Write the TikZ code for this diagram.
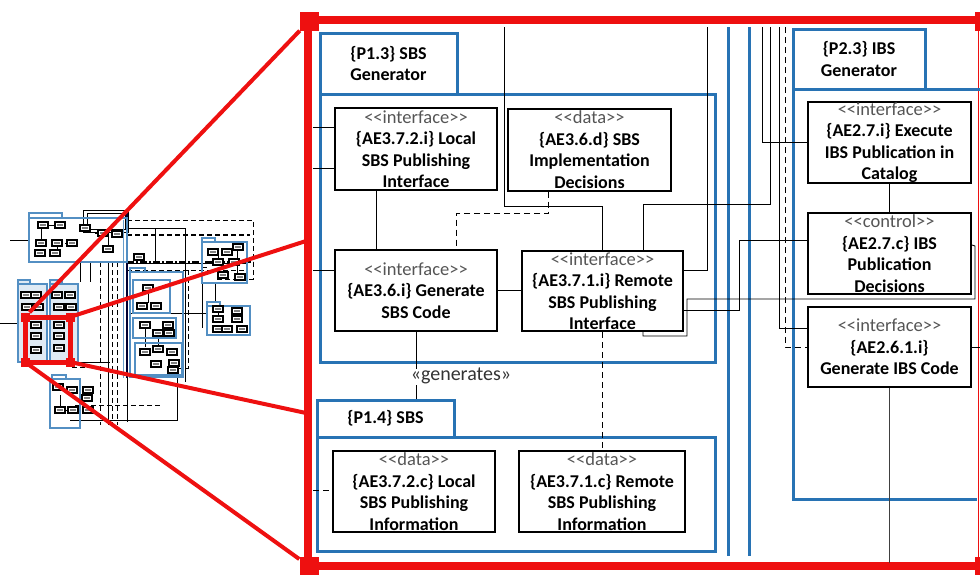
\documentclass[tikz,border=0pt]{standalone}
\usepackage{fontspec}
\setmainfont{Carlito}
\usetikzlibrary{calc}
\definecolor{pkgblue}{RGB}{40,115,180}
\definecolor{zred}{RGB}{238,16,16}
\definecolor{stgray}{RGB}{85,85,85}
\newcommand\stype[1]{{\fontsize{18.5}{21.5}\selectfont\mdseries\color{stgray}<{}<#1>{}>}}
\newcommand\tbt{\textcolor{gray}{\rule{6pt}{2pt}}}
\tikzset{
  pkg/.style={draw=pkgblue, line width=3pt},
  pkgtxt/.style={pkg, inner sep=0pt, align=center, font=\fontsize{18}{21.5}\selectfont\bfseries},
  cls/.style={draw=black, line width=2pt, fill=white, inner sep=0pt, align=center,
    minimum width=162pt, minimum height=81pt, font=\fontsize{18}{21.5}\selectfont\bfseries},
  conn/.style={draw=black, line width=0.8pt},
  dconn/.style={conn, dash pattern=on 6pt off 4pt},
  redline/.style={draw=zred, line width=7.5pt},
  redthin/.style={draw=zred, line width=4pt},
  redsq/.style={fill=zred, minimum size=19pt, inner sep=0pt},
  tpkg/.style={draw=pkgblue!80, line width=1.4pt},
  tbox/.style={draw=black, line width=1.1pt, fill=white, minimum width=10pt, minimum height=6pt, inner sep=0pt},
  tline/.style={draw=black, line width=0.7pt},
  tdash/.style={draw=black, line width=0.9pt, dash pattern=on 5pt off 3pt},
}
\begin{document}
\begin{tikzpicture}[x=1pt,y=-1pt]
\useasboundingbox (0,0) rectangle (980,574);

% ================= thumbnail =================
% dashed frames and long lines
\draw[tdash] (127,220) -- (253,220) -- (253,279) -- (215,279);
\draw[tdash, line width=1.6pt] (127,235) -- (250,235);
\draw[draw=black, line width=1.6pt, dash pattern=on 7pt off 2pt on 2pt off 2pt] (127,262) -- (253,262);
\draw[tdash] (127,270) -- (245,270);
\draw[tdash] (188,270) -- (188,368) -- (177,368);
\foreach \xx in {100,112,117}{\draw[tdash] (\xx,262) -- (\xx,425);}
\draw[tdash] (75,405) -- (160,405);
\draw[tdash] (72,367) -- (100,367);
% thin black lines
\draw[tline] (83,210) rectangle (128,232);
\draw[tline] (87,213) rectangle (125,229);
\draw[tline] (127,228) -- (185,228) -- (185,382);
\draw[tline] (155,228) -- (155,263);
\draw[tline] (127,263) -- (247,263);
\draw[tline] (10,240) -- (29,240);
\draw[tline] (0,323) -- (18,323);
\draw[tline] (130,313) -- (207,313);
\draw[tline] (202,267) -- (202,328);
\draw[tline] (202,267) -- (207,267);
\draw[tline] (215,283) -- (215,302);
\draw[tline] (70,420) -- (177,420) -- (177,377);
\draw[tline] (127,377) -- (127,422);
\draw[tline] (108,262) -- (108,425);
\draw[tline] (80,262) -- (80,282);
\draw[tline] (90,262) -- (90,282);
\draw[tline] (72,362) -- (110,362);
\draw[tline] (48,225) -- (55,225);
\draw[tline] (41,228) -- (41,240);
\draw[tline] (57,246) -- (57,250);
\draw[tline] (65,243) -- (67,243);
\draw[tline] (95,233) -- (98,233);
\draw[tline] (108,237) -- (108,246);
\draw[tline] (148,291) -- (148,303);
\draw[tline] (145,328) -- (145,347);
\draw[tline] (158,336) -- (158,347);
\draw[tline] (218,255) -- (218,259);
\draw[tline] (237,250) -- (237,275);
\draw[tline] (218,312) -- (218,317);
\draw[tline] (30,299) -- (30,303);
\draw[tline] (62,299) -- (62,303);
\draw[tline] (36,310) -- (36,320);
\draw[tline] (59,310) -- (59,320);
\draw[tline] (60,395) -- (60,406);
\draw[tline] (65,410) -- (68,410);
% thick dark line
\draw[draw=black!80!blue, line width=2.6pt] (127,212) -- (127,378);
\draw[draw=pkgblue!70, line width=1pt] (123,220) -- (123,378);
% packages
\draw[tpkg] (29,213) rectangle (62,218); \draw[tpkg] (29,218) rectangle (127,262);
\draw[tpkg] (202,238) rectangle (215,242); \draw[tpkg] (202,242) rectangle (247,283);
\draw[tpkg] (207,302) rectangle (220,306); \draw[tpkg] (207,306) rectangle (250,335);
\draw[tpkg] (130,268) rectangle (145,272); \draw[tpkg] (130,272) rectangle (183,377);
\draw[tpkg] (133,280) rectangle (170,313);
\draw[tpkg] (133,318) rectangle (176,338);
\draw[tpkg] (135,343) rectangle (182,375);
\draw[tpkg, fill=pkgblue!15] (18,280) rectangle (30,284); \draw[tpkg, fill=pkgblue!15] (18,284) rectangle (47,362);
\draw[tpkg, fill=pkgblue!15] (50,280) rectangle (62,284); \draw[tpkg, fill=pkgblue!15] (50,284) rectangle (78,362);
\draw[tpkg] (52,375) rectangle (66,379); \draw[tpkg] (50,379) rectangle (80,428);
% tiny class boxes
\foreach \nm/\px/\py in {a1/43/225,a2/60/225,a3/85/228,a4/103/233,a5/117/234,a6/41/243,a7/57/243,a8/72/243,a9/40/253,a10/55/253,a11/108/249,
  b1/213/252,b2/227/252,b3/238/247,b4/218/262,b5/234/262,b6/223/275,b7/240/277,
  c1/218/309,c2/237/311,c3/218/319,c4/237/319,c5/218/329,c6/227/329,c7/242/329,
  d1/148/288,d2/142/306,d3/156/306,d4/145/325,d5/168/325,d6/158/333,d7/169/333,d8/145/352,d9/158/349,d10/172/352,d11/156/364,d12/174/363,d13/173/370,d14/139/257,
  e1/26/295,e2/36/295,e3/57/295,e4/70/295,e5/27/307,e6/38/307,e7/59/307,e8/71/307,e9/36/325,e10/59/325,e11/36/336,e12/59/336,e13/36/350,e14/59/348,
  f1/58/387,f2/72/390,f3/88/390,f4/87/398,f5/60/410,f6/73/410,f7/88/410}
  {\node[tbox] (\nm) at (\px,\py) {\tbt};}
% red zoom marker in thumbnail
\draw[zred, line width=5pt] (25,317) rectangle (70,362);
\foreach \nm/\px/\py in {q1/25/317,q2/70/317,q3/25/362,q4/70/362}
  {\node[fill=zred, minimum size=9pt, inner sep=0pt] (\nm) at (\px,\py) {};}

% ================= red zoom frame =================
\coordinate (ftl) at (308,20);
\coordinate (fbl) at (308,566);
\coordinate (ftr) at (984,20);
\coordinate (fbr) at (984,566);
\draw[redline] (ftl) -- (ftr);
\draw[redline] (ftl) -- (fbl);
\draw[redline] (fbl) -- (fbr);
\draw[draw=zred, line width=1.3pt] (978.5,20) -- (978.5,566);
\node[redsq] (sq1) at (309,21) {};
\node[redsq] (sq2) at (309,566) {};
\node[redsq] (sq3) at (984,21) {};
\node[redsq] (sq4) at (984,566) {};
\coordinate (r2e) at (306,241);
\coordinate (r3e) at (306,413);
\draw[redthin] (q1) -- (sq1);
\draw[redthin] (q2) -- (r2e);
\draw[redthin] (q4) -- (r3e);
\draw[redthin] (q3) -- (sq2);

% ================= packages in zoom =================
\draw[pkg] (728,27) -- (728,556);
\draw[pkg] (749,27) -- (749,556);
\node[pkgtxt, minimum width=137pt, minimum height=61pt] (p13tab) at (388.5,63.5) {\{P1.3\} SBS\\Generator};
\node[pkg, minimum width=395pt, minimum height=268pt, inner sep=0pt] (p13) at (517.5,228) {};
\node[pkgtxt, minimum width=137pt, minimum height=37pt] (p14tab) at (385.5,418.5) {\{P1.4\} SBS};
\node[pkg, minimum width=398pt, minimum height=114pt, inner sep=0pt] (p14) at (516,494) {};
\node[pkgtxt, minimum width=132pt, minimum height=60pt] (p23tab) at (859,59) {\{P2.3\} IBS\\Generator};
\draw[pkg] (990,89) -- (793,89) -- (793,499) -- (977,499);

% ================= classes =================
\node[cls, minimum height=82pt] (a372i) at (416,149) {\stype{interface}\\\{AE3.7.2.i\} Local\\SBS Publishing\\Interface};
\node[cls, minimum width=163pt, minimum height=82pt] (a36d) at (589.5,149.5) {\stype{data}\\\{AE3.6.d\} SBS\\Implementation\\Decisions};
\node[cls] (a36i) at (416,290.5) {\stype{interface}\\\{AE3.6.i\} Generate\\SBS Code};
\node[cls, minimum width=161pt, minimum height=80pt] (a371i) at (602.5,291) {\stype{interface}\\\{AE3.7.1.i\} Remote\\SBS Publishing\\Interface};
\node[cls] (a372c) at (414,491.5) {\stype{data}\\\{AE3.7.2.c\} Local\\SBS Publishing\\Information};
\node[cls, minimum width=166pt] (a371c) at (602,491.5) {\stype{data}\\\{AE3.7.1.c\} Remote\\SBS Publishing\\Information};
\node[cls, minimum width=163pt] (a27i) at (889.5,142.5) {\stype{interface}\\\{AE2.7.i\} Execute\\IBS Publication in\\Catalog};
\node[cls, minimum width=163pt] (a27c) at (889.5,253.5) {\stype{control}\\\{AE2.7.c\} IBS\\Publication\\Decisions};
\node[cls, minimum width=163pt, minimum height=80pt] (a261i) at (889.5,347) {\stype{interface}\\\{AE2.6.1.i\}\\Generate IBS Code};

% ================= connectors =================
\coordinate (t1) at (504,27);
\coordinate (t2) at (707,27);
\coordinate (t3) at (770,27);
\coordinate (t4) at (762,27);
\coordinate (t5) at (779,27);
\coordinate (t6) at (785,27);
\coordinate (l1) at (313,127.5);
\coordinate (l2) at (313,168);
\coordinate (l3) at (313,270);
\coordinate (l4) at (313,490);
\coordinate (bot) at (889.5,563);

\draw[conn] ([xshift=-40pt]a372i.south) -- ([xshift=-40pt]a36i.north);
\draw[dconn] ([xshift=-41.5pt]a36d.south) -- ++(0,22) -| ([xshift=40pt]a36i.north);
\draw[conn] (t1) -- ++(0,179) -| (a371i.north);
\draw[conn] (a36i.east) -- (a36i.east -| a371i.west);
\draw[conn] (t2) |- ([yshift=21pt]a371i.east);
\draw[conn] ([xshift=40.5pt]a371i.north) -- ++(0,-46) -| (t3);
\draw[conn] (t4) |- (a27i.west);
\draw[conn] (t5) |- ([yshift=19pt]a261i.west);
\draw[dconn] (t6) |- (a261i.west);
\draw[conn] ([yshift=-19pt]a371i.east) -- ++(55,0) -- ++(0,-70) -- ([yshift=13.5pt]a27c.west);
\draw[conn] ([xshift=40.5pt]a371i.south) -- ++(0,4) -- ++(44,0) -- ++(0,-37) -- ++(288,0) -- ++(0,-53) -- ([yshift=8.5pt]a27c.east);
\draw[conn] (a27i.south) -- (a27c.north);
\draw[conn, draw=black!75] (a261i.south) -- (bot);
\draw[conn] (a261i.east) -- ++(9,0);
\draw[dconn] (a371i.south) -- (a371i.south |- a371c.north);
\draw[conn] (l1) -- (l1 -| a372i.west);
\draw[conn] (l2) -- (l2 -| a372i.west);
\draw[conn] (l3) -- (l3 -| a36i.west);
\draw[dconn] (l4) -- (l4 -| a372c.west);
% generates dependency
\node[font=\fontsize{20}{22}\selectfont, text=black!80, inner sep=1pt] (gen) at (461,376) {«generates»};
\draw[conn] (a36i.south) -- ++(0,37);
\draw[conn] (p14tab.north -| a36i.south) -- ++(0,-14);
\end{tikzpicture}
\end{document}
